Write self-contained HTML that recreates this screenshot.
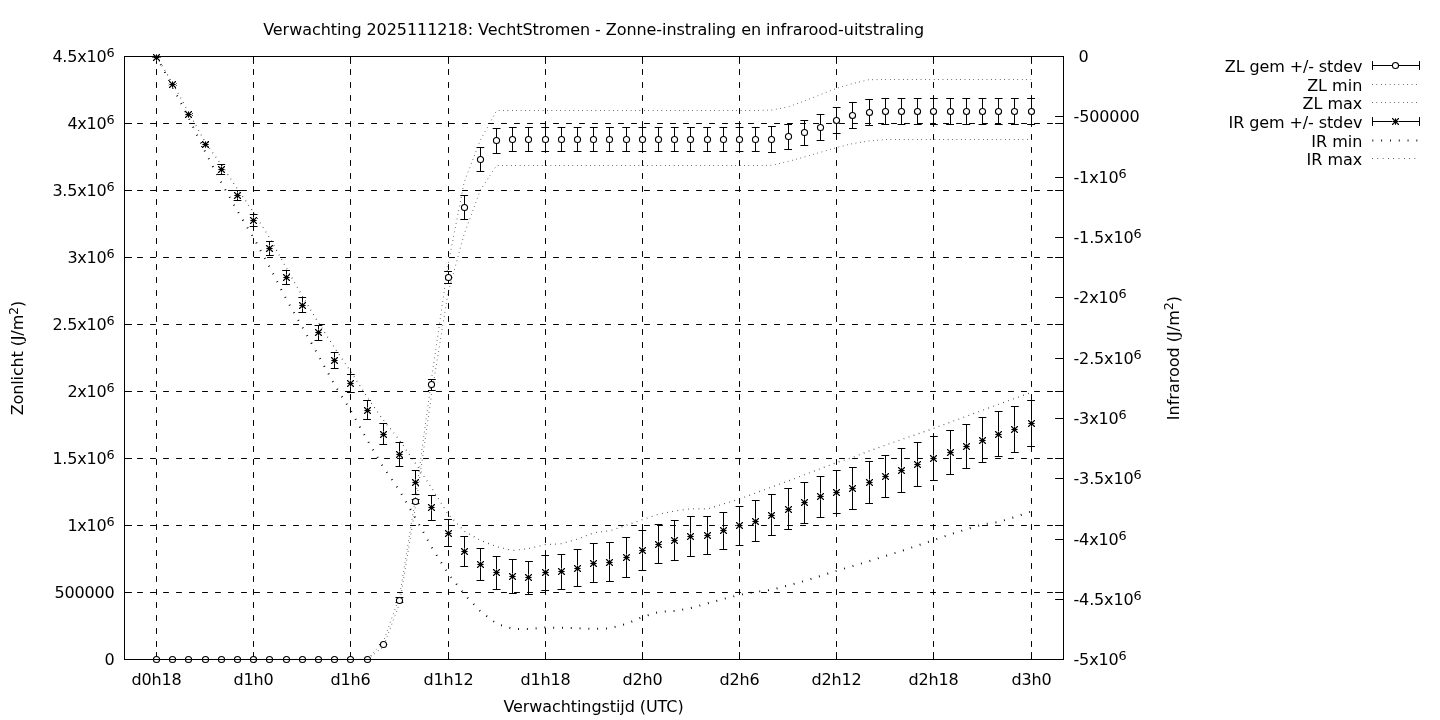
<!DOCTYPE html>
<html lang="nl">
<head>
<meta charset="utf-8">
<title>Verwachting 2025111218: VechtStromen - Zonne-instraling en infrarood-uitstraling</title>
<style>html,body{margin:0;padding:0;background:#fff}svg{display:block;will-change:transform}</style>
</head>
<body>
<svg width="1440" height="720" viewBox="0 0 1440 720" role="img" aria-label="Verwachting 2025111218">
<g fill="none" stroke="#000" stroke-width="1" stroke-linecap="round" stroke-linejoin="round">
<g stroke-dasharray="5 8">
<path d="M156.50 659.5V56.5"/>
<path d="M253.50 659.5V56.5"/>
<path d="M350.50 659.5V56.5"/>
<path d="M448.50 659.5V56.5"/>
<path d="M545.50 659.5V56.5"/>
<path d="M642.50 659.5V56.5"/>
<path d="M739.50 659.5V56.5"/>
<path d="M836.50 659.5V56.5"/>
<path d="M933.50 659.5V56.5"/>
<path d="M1031.50 659.5V56.5"/>
<path d="M124.5 592.5H1063.5"/>
<path d="M124.5 525.5H1063.5"/>
<path d="M124.5 458.5H1063.5"/>
<path d="M124.5 391.5H1063.5"/>
<path d="M124.5 324.5H1063.5"/>
<path d="M124.5 257.5H1063.5"/>
<path d="M124.5 190.5H1063.5"/>
<path d="M124.5 123.5H1063.5"/>
<path d="M124.5 56.5H1063.5"/>
</g>
<path d="M156.50 659.5v-7M156.50 56.5v7M253.50 659.5v-7M253.50 56.5v7M350.50 659.5v-7M350.50 56.5v7M448.50 659.5v-7M448.50 56.5v7M545.50 659.5v-7M545.50 56.5v7M642.50 659.5v-7M642.50 56.5v7M739.50 659.5v-7M739.50 56.5v7M836.50 659.5v-7M836.50 56.5v7M933.50 659.5v-7M933.50 56.5v7M1031.50 659.5v-7M1031.50 56.5v7M124.5 659.5h7M1063.5 659.5h-8M124.5 592.5h7M1063.5 592.5h-8M124.5 525.5h7M1063.5 525.5h-8M124.5 458.5h7M1063.5 458.5h-8M124.5 391.5h7M1063.5 391.5h-8M124.5 324.5h7M1063.5 324.5h-8M124.5 257.5h7M1063.5 257.5h-8M124.5 190.5h7M1063.5 190.5h-8M124.5 123.5h7M1063.5 123.5h-8M124.5 56.5h7M1063.5 56.5h-8M1063.5 56.50h-8M1063.5 116.50h-8M1063.5 177.50h-8M1063.5 237.50h-8M1063.5 297.50h-8M1063.5 358.50h-8M1063.5 418.50h-8M1063.5 478.50h-8M1063.5 539.50h-8M1063.5 599.50h-8M1063.5 659.50h-8"/>
</g>
<g fill="none" stroke="#000" stroke-linejoin="round">
<path d="M156.50 659.50L172.70 659.50L188.89 659.50L205.09 659.50L221.28 659.50L237.48 659.50L253.67 659.50L269.87 659.50L286.06 659.50L302.26 659.50L318.45 659.50L334.65 659.50L350.85 659.50L367.04 659.50L383.24 647.00L399.43 604.00L415.63 506.00L431.82 393.00L448.02 293.00L464.21 234.00L480.41 190.00L496.61 165.50L512.80 165.50L529.00 165.50L545.19 165.50L561.39 165.50L577.58 165.50L593.78 165.50L609.97 165.50L626.17 165.50L642.37 165.50L658.56 165.50L674.76 165.50L690.95 165.50L707.15 165.50L723.34 165.50L739.54 165.50L755.73 165.50L771.93 165.30L788.12 161.50L804.32 157.00L820.52 152.30L836.71 147.50L852.91 143.50L869.10 141.00L885.30 139.50L901.49 139.50L917.69 139.50L933.88 139.50L950.08 139.50L966.27 139.50L982.47 139.50L998.67 139.50L1014.86 139.50L1031.06 139.50" stroke-width="1" stroke-dasharray="0.55 3.85"/>
<path d="M156.50 659.50L172.70 659.50L188.89 659.50L205.09 659.50L221.28 659.50L237.48 659.50L253.67 659.50L269.87 659.50L286.06 659.50L302.26 659.50L318.45 659.50L334.65 659.50L350.85 659.50L367.04 659.50L383.24 642.00L399.43 597.00L415.63 497.00L431.82 377.00L448.02 265.00L464.21 182.00L480.41 140.00L496.61 110.50L512.80 110.50L529.00 110.50L545.19 110.50L561.39 110.50L577.58 110.50L593.78 110.50L609.97 110.50L626.17 110.50L642.37 110.50L658.56 110.50L674.76 110.50L690.95 110.50L707.15 110.50L723.34 110.50L739.54 110.50L755.73 110.50L771.93 110.00L788.12 106.90L804.32 101.00L820.52 94.70L836.71 88.30L852.91 83.50L869.10 79.70L885.30 79.50L901.49 79.50L917.69 79.50L933.88 79.50L950.08 79.50L966.27 79.50L982.47 79.50L998.67 79.50L1014.86 79.50L1031.06 79.50" stroke-width="1" stroke-dasharray="0.55 3.85"/>
<path d="M156.50 56.50L172.70 87.20L188.89 118.30L205.09 151.70L221.28 182.50L237.48 211.00L253.67 238.00L269.87 267.50L286.06 298.80L302.26 327.00L318.45 355.50L334.65 385.00L350.85 410.80L367.04 439.70L383.24 467.00L399.43 490.50L415.63 518.30L431.82 547.50L448.02 573.30L464.21 594.20L480.41 611.30L496.61 623.80L512.80 628.80L529.00 629.10L545.19 627.50L561.39 627.80L577.58 628.30L593.78 628.80L609.97 628.30L626.17 624.00L642.37 617.00L658.56 612.00L674.76 611.00L690.95 608.00L707.15 603.50L723.34 599.00L739.54 594.80L755.73 592.00L771.93 589.70L788.12 585.50L804.32 581.00L820.52 576.00L836.71 570.80L852.91 566.00L869.10 561.20L885.30 556.00L901.49 551.00L917.69 545.50L933.88 540.00L950.08 534.50L966.27 529.30L982.47 524.50L998.67 522.00L1014.86 517.00L1031.06 511.50" stroke-width="2" stroke-dasharray="0.9 7.9"/>
<path d="M156.50 56.50L172.70 83.50L188.89 112.70L205.09 142.00L221.28 164.70L237.48 189.00L253.67 212.50L269.87 238.30L286.06 267.50L302.26 296.00L318.45 322.80L334.65 348.00L350.85 371.70L367.04 397.00L383.24 420.00L399.43 440.00L415.63 463.70L431.82 488.30L448.02 514.00L464.21 531.20L480.41 540.30L496.61 546.70L512.80 550.50L529.00 548.50L545.19 544.70L561.39 543.70L577.58 539.00L593.78 532.70L609.97 530.80L626.17 525.30L642.37 519.70L658.56 514.20L674.76 511.00L690.95 508.70L707.15 509.00L723.34 504.00L739.54 499.00L755.73 493.00L771.93 487.00L788.12 481.00L804.32 474.70L820.52 468.60L836.71 462.50L852.91 457.30L869.10 451.00L885.30 445.20L901.49 439.50L917.69 434.00L933.88 428.30L950.08 422.30L966.27 416.30L982.47 410.30L998.67 404.30L1014.86 398.40L1031.06 392.50" stroke-width="1.2" stroke-dasharray="0.6 4.7"/>
</g>
<g fill="none" stroke="#000" stroke-width="1" stroke-linecap="round">
<path d="M156.50 659.50V659.50M153.00 659.50h7.0M153.00 659.50h7.0M172.50 659.50V659.50M169.20 659.50h7.0M169.20 659.50h7.0M188.50 659.50V659.50M185.39 659.50h7.0M185.39 659.50h7.0M205.50 659.50V659.50M201.59 659.50h7.0M201.59 659.50h7.0M221.50 659.50V659.50M217.78 659.50h7.0M217.78 659.50h7.0M237.50 659.50V659.50M233.98 659.50h7.0M233.98 659.50h7.0M253.50 659.50V659.50M250.17 659.50h7.0M250.17 659.50h7.0M269.50 659.50V659.50M266.37 659.50h7.0M266.37 659.50h7.0M286.50 659.50V659.50M282.56 659.50h7.0M282.56 659.50h7.0M302.50 659.50V659.50M298.76 659.50h7.0M298.76 659.50h7.0M318.50 659.50V659.50M314.95 659.50h7.0M314.95 659.50h7.0M334.50 659.50V659.50M331.15 659.50h7.0M331.15 659.50h7.0M350.50 659.50V659.50M347.35 659.50h7.0M347.35 659.50h7.0M367.50 659.50V659.50M363.54 659.50h7.0M363.54 659.50h7.0M383.50 644.50V644.50M379.74 644.50h7.0M379.74 644.50h7.0M399.50 597.50V602.50M395.93 597.50h7.0M395.93 602.50h7.0M415.50 499.50V503.50M412.13 499.50h7.0M412.13 503.50h7.0M431.50 379.50V390.50M428.32 379.50h7.0M428.32 390.50h7.0M448.50 271.50V283.50M444.52 271.50h7.0M444.52 283.50h7.0M464.50 195.50V219.50M460.71 195.50h7.0M460.71 219.50h7.0M480.50 147.50V171.50M476.91 147.50h7.0M476.91 171.50h7.0M496.50 128.50V153.50M493.11 128.50h7.0M493.11 153.50h7.0M512.50 127.50V151.50M509.30 127.50h7.0M509.30 151.50h7.0M528.50 127.50V151.50M525.50 127.50h7.0M525.50 151.50h7.0M545.50 127.50V151.50M541.69 127.50h7.0M541.69 151.50h7.0M561.50 127.50V151.50M557.89 127.50h7.0M557.89 151.50h7.0M577.50 127.50V151.50M574.08 127.50h7.0M574.08 151.50h7.0M593.50 127.50V151.50M590.28 127.50h7.0M590.28 151.50h7.0M609.50 127.50V151.50M606.47 127.50h7.0M606.47 151.50h7.0M626.50 127.50V151.50M622.67 127.50h7.0M622.67 151.50h7.0M642.50 127.50V151.50M638.87 127.50h7.0M638.87 151.50h7.0M658.50 127.50V151.50M655.06 127.50h7.0M655.06 151.50h7.0M674.50 127.50V151.50M671.26 127.50h7.0M671.26 151.50h7.0M690.50 127.50V151.50M687.45 127.50h7.0M687.45 151.50h7.0M707.50 127.50V151.50M703.65 127.50h7.0M703.65 151.50h7.0M723.50 127.50V151.50M719.84 127.50h7.0M719.84 151.50h7.0M739.50 127.50V151.50M736.04 127.50h7.0M736.04 151.50h7.0M755.50 127.50V151.50M752.23 127.50h7.0M752.23 151.50h7.0M771.50 126.50V152.50M768.43 126.50h7.0M768.43 152.50h7.0M788.50 124.50V149.50M784.62 124.50h7.0M784.62 149.50h7.0M804.50 120.50V145.50M800.82 120.50h7.0M800.82 145.50h7.0M820.50 114.50V140.50M817.02 114.50h7.0M817.02 140.50h7.0M836.50 107.50V133.50M833.21 107.50h7.0M833.21 133.50h7.0M852.50 102.50V128.50M849.41 102.50h7.0M849.41 128.50h7.0M869.50 99.50V125.50M865.60 99.50h7.0M865.60 125.50h7.0M885.50 98.50V124.50M881.80 98.50h7.0M881.80 124.50h7.0M901.50 98.50V124.50M897.99 98.50h7.0M897.99 124.50h7.0M917.50 98.50V124.50M914.19 98.50h7.0M914.19 124.50h7.0M933.50 98.50V124.50M930.38 98.50h7.0M930.38 124.50h7.0M950.50 98.50V124.50M946.58 98.50h7.0M946.58 124.50h7.0M966.50 98.50V124.50M962.77 98.50h7.0M962.77 124.50h7.0M982.50 98.50V124.50M978.97 98.50h7.0M978.97 124.50h7.0M998.50 98.50V124.50M995.17 98.50h7.0M995.17 124.50h7.0M1014.50 98.50V124.50M1011.36 98.50h7.0M1011.36 124.50h7.0M1031.50 98.50V124.50M1027.56 98.50h7.0M1027.56 124.50h7.0"/>
<g fill="#fff" stroke-width="1.1">
<circle cx="156.5" cy="659.5" r="3.05"/>
<circle cx="172.5" cy="659.5" r="3.05"/>
<circle cx="188.5" cy="659.5" r="3.05"/>
<circle cx="205.5" cy="659.5" r="3.05"/>
<circle cx="221.5" cy="659.5" r="3.05"/>
<circle cx="237.5" cy="659.5" r="3.05"/>
<circle cx="253.5" cy="659.5" r="3.05"/>
<circle cx="269.5" cy="659.5" r="3.05"/>
<circle cx="286.5" cy="659.5" r="3.05"/>
<circle cx="302.5" cy="659.5" r="3.05"/>
<circle cx="318.5" cy="659.5" r="3.05"/>
<circle cx="334.5" cy="659.5" r="3.05"/>
<circle cx="350.5" cy="659.5" r="3.05"/>
<circle cx="367.5" cy="659.5" r="3.05"/>
<circle cx="383.5" cy="644.5" r="3.05"/>
<circle cx="399.5" cy="600.5" r="3.05"/>
<circle cx="415.5" cy="501.5" r="3.05"/>
<circle cx="431.5" cy="384.5" r="3.05"/>
<circle cx="448.5" cy="277.5" r="3.05"/>
<circle cx="464.5" cy="207.5" r="3.05"/>
<circle cx="480.5" cy="159.5" r="3.05"/>
<circle cx="496.5" cy="140.5" r="3.05"/>
<circle cx="512.5" cy="139.5" r="3.05"/>
<circle cx="528.5" cy="139.5" r="3.05"/>
<circle cx="545.5" cy="139.5" r="3.05"/>
<circle cx="561.5" cy="139.5" r="3.05"/>
<circle cx="577.5" cy="139.5" r="3.05"/>
<circle cx="593.5" cy="139.5" r="3.05"/>
<circle cx="609.5" cy="139.5" r="3.05"/>
<circle cx="626.5" cy="139.5" r="3.05"/>
<circle cx="642.5" cy="139.5" r="3.05"/>
<circle cx="658.5" cy="139.5" r="3.05"/>
<circle cx="674.5" cy="139.5" r="3.05"/>
<circle cx="690.5" cy="139.5" r="3.05"/>
<circle cx="707.5" cy="139.5" r="3.05"/>
<circle cx="723.5" cy="139.5" r="3.05"/>
<circle cx="739.5" cy="139.5" r="3.05"/>
<circle cx="755.5" cy="139.5" r="3.05"/>
<circle cx="771.5" cy="139.5" r="3.05"/>
<circle cx="788.5" cy="136.5" r="3.05"/>
<circle cx="804.5" cy="132.5" r="3.05"/>
<circle cx="820.5" cy="127.5" r="3.05"/>
<circle cx="836.5" cy="120.5" r="3.05"/>
<circle cx="852.5" cy="115.5" r="3.05"/>
<circle cx="869.5" cy="112.5" r="3.05"/>
<circle cx="885.5" cy="111.5" r="3.05"/>
<circle cx="901.5" cy="111.5" r="3.05"/>
<circle cx="917.5" cy="111.5" r="3.05"/>
<circle cx="933.5" cy="111.5" r="3.05"/>
<circle cx="950.5" cy="111.5" r="3.05"/>
<circle cx="966.5" cy="111.5" r="3.05"/>
<circle cx="982.5" cy="111.5" r="3.05"/>
<circle cx="998.5" cy="111.5" r="3.05"/>
<circle cx="1014.5" cy="111.5" r="3.05"/>
<circle cx="1031.5" cy="111.5" r="3.05"/>
</g>
<path d="M156.50 57.50V57.50M153.00 57.50h7.0M153.00 57.50h7.0M172.50 83.50V85.50M169.20 83.50h7.0M169.20 85.50h7.0M188.50 113.50V115.50M185.39 113.50h7.0M185.39 115.50h7.0M205.50 142.50V146.50M201.59 142.50h7.0M201.59 146.50h7.0M221.50 164.50V174.50M217.78 164.50h7.0M217.78 174.50h7.0M237.50 190.50V200.50M233.98 190.50h7.0M233.98 200.50h7.0M253.50 214.50V226.50M250.17 214.50h7.0M250.17 226.50h7.0M269.50 241.50V255.50M266.37 241.50h7.0M266.37 255.50h7.0M286.50 270.50V284.50M282.56 270.50h7.0M282.56 284.50h7.0M302.50 297.50V312.50M298.76 297.50h7.0M298.76 312.50h7.0M318.50 325.50V340.50M314.95 325.50h7.0M314.95 340.50h7.0M334.50 352.50V368.50M331.15 352.50h7.0M331.15 368.50h7.0M350.50 374.50V392.50M347.35 374.50h7.0M347.35 392.50h7.0M367.50 400.50V419.50M363.54 400.50h7.0M363.54 419.50h7.0M383.50 423.50V444.50M379.74 423.50h7.0M379.74 444.50h7.0M399.50 442.50V466.50M395.93 442.50h7.0M395.93 466.50h7.0M415.50 470.50V494.50M412.13 470.50h7.0M412.13 494.50h7.0M431.50 495.50V520.50M428.32 495.50h7.0M428.32 520.50h7.0M448.50 519.50V546.50M444.52 519.50h7.0M444.52 546.50h7.0M464.50 536.50V566.50M460.71 536.50h7.0M460.71 566.50h7.0M480.50 548.50V580.50M476.91 548.50h7.0M476.91 580.50h7.0M496.50 556.50V589.50M493.11 556.50h7.0M493.11 589.50h7.0M512.50 559.50V593.50M509.30 559.50h7.0M509.30 593.50h7.0M528.50 561.50V594.50M525.50 561.50h7.0M525.50 594.50h7.0M545.50 555.50V590.50M541.69 555.50h7.0M541.69 590.50h7.0M561.50 554.50V589.50M557.89 554.50h7.0M557.89 589.50h7.0M577.50 549.50V586.50M574.08 549.50h7.0M574.08 586.50h7.0M593.50 543.50V582.50M590.28 543.50h7.0M590.28 582.50h7.0M609.50 542.50V581.50M606.47 542.50h7.0M606.47 581.50h7.0M626.50 537.50V577.50M622.67 537.50h7.0M622.67 577.50h7.0M642.50 530.50V570.50M638.87 530.50h7.0M638.87 570.50h7.0M658.50 524.50V563.50M655.06 524.50h7.0M655.06 563.50h7.0M674.50 520.50V560.50M671.26 520.50h7.0M671.26 560.50h7.0M690.50 516.50V556.50M687.45 516.50h7.0M687.45 556.50h7.0M707.50 516.50V554.50M703.65 516.50h7.0M703.65 554.50h7.0M723.50 512.50V549.50M719.84 512.50h7.0M719.84 549.50h7.0M739.50 506.50V545.50M736.04 506.50h7.0M736.04 545.50h7.0M755.50 500.50V541.50M752.23 500.50h7.0M752.23 541.50h7.0M771.50 494.50V535.50M768.43 494.50h7.0M768.43 535.50h7.0M788.50 488.50V529.50M784.62 488.50h7.0M784.62 529.50h7.0M804.50 482.50V523.50M800.82 482.50h7.0M800.82 523.50h7.0M820.50 476.50V517.50M817.02 476.50h7.0M817.02 517.50h7.0M836.50 470.50V513.50M833.21 470.50h7.0M833.21 513.50h7.0M852.50 467.50V509.50M849.41 467.50h7.0M849.41 509.50h7.0M869.50 461.50V503.50M865.60 461.50h7.0M865.60 503.50h7.0M885.50 455.50V497.50M881.80 455.50h7.0M881.80 497.50h7.0M901.50 448.50V492.50M897.99 448.50h7.0M897.99 492.50h7.0M917.50 442.50V486.50M914.19 442.50h7.0M914.19 486.50h7.0M933.50 436.50V480.50M930.38 436.50h7.0M930.38 480.50h7.0M950.50 430.50V474.50M946.58 430.50h7.0M946.58 474.50h7.0M966.50 424.50V468.50M962.77 424.50h7.0M962.77 468.50h7.0M982.50 417.50V462.50M978.97 417.50h7.0M978.97 462.50h7.0M998.50 411.50V456.50M995.17 411.50h7.0M995.17 456.50h7.0M1014.50 406.50V452.50M1011.36 406.50h7.0M1011.36 452.50h7.0M1031.50 400.50V446.50M1027.56 400.50h7.0M1027.56 446.50h7.0"/>
<g fill="#fff" stroke="none">
<circle cx="156.5" cy="57.5" r="3.6"/>
<circle cx="172.5" cy="84.5" r="3.6"/>
<circle cx="188.5" cy="114.5" r="3.6"/>
<circle cx="205.5" cy="144.5" r="3.6"/>
<circle cx="221.5" cy="169.5" r="3.6"/>
<circle cx="237.5" cy="195.5" r="3.6"/>
<circle cx="253.5" cy="220.5" r="3.6"/>
<circle cx="269.5" cy="248.5" r="3.6"/>
<circle cx="286.5" cy="277.5" r="3.6"/>
<circle cx="302.5" cy="305.5" r="3.6"/>
<circle cx="318.5" cy="332.5" r="3.6"/>
<circle cx="334.5" cy="360.5" r="3.6"/>
<circle cx="350.5" cy="383.5" r="3.6"/>
<circle cx="367.5" cy="410.5" r="3.6"/>
<circle cx="383.5" cy="434.5" r="3.6"/>
<circle cx="399.5" cy="454.5" r="3.6"/>
<circle cx="415.5" cy="482.5" r="3.6"/>
<circle cx="431.5" cy="507.5" r="3.6"/>
<circle cx="448.5" cy="533.5" r="3.6"/>
<circle cx="464.5" cy="551.5" r="3.6"/>
<circle cx="480.5" cy="564.5" r="3.6"/>
<circle cx="496.5" cy="572.5" r="3.6"/>
<circle cx="512.5" cy="576.5" r="3.6"/>
<circle cx="528.5" cy="577.5" r="3.6"/>
<circle cx="545.5" cy="572.5" r="3.6"/>
<circle cx="561.5" cy="571.5" r="3.6"/>
<circle cx="577.5" cy="568.5" r="3.6"/>
<circle cx="593.5" cy="563.5" r="3.6"/>
<circle cx="609.5" cy="562.5" r="3.6"/>
<circle cx="626.5" cy="557.5" r="3.6"/>
<circle cx="642.5" cy="550.5" r="3.6"/>
<circle cx="658.5" cy="544.5" r="3.6"/>
<circle cx="674.5" cy="540.5" r="3.6"/>
<circle cx="690.5" cy="536.5" r="3.6"/>
<circle cx="707.5" cy="535.5" r="3.6"/>
<circle cx="723.5" cy="530.5" r="3.6"/>
<circle cx="739.5" cy="525.5" r="3.6"/>
<circle cx="755.5" cy="521.5" r="3.6"/>
<circle cx="771.5" cy="515.5" r="3.6"/>
<circle cx="788.5" cy="509.5" r="3.6"/>
<circle cx="804.5" cy="502.5" r="3.6"/>
<circle cx="820.5" cy="496.5" r="3.6"/>
<circle cx="836.5" cy="492.5" r="3.6"/>
<circle cx="852.5" cy="488.5" r="3.6"/>
<circle cx="869.5" cy="482.5" r="3.6"/>
<circle cx="885.5" cy="476.5" r="3.6"/>
<circle cx="901.5" cy="470.5" r="3.6"/>
<circle cx="917.5" cy="464.5" r="3.6"/>
<circle cx="933.5" cy="458.5" r="3.6"/>
<circle cx="950.5" cy="452.5" r="3.6"/>
<circle cx="966.5" cy="446.5" r="3.6"/>
<circle cx="982.5" cy="440.5" r="3.6"/>
<circle cx="998.5" cy="434.5" r="3.6"/>
<circle cx="1014.5" cy="429.5" r="3.6"/>
<circle cx="1031.5" cy="423.5" r="3.6"/>
</g>
<path stroke-width="1.1" d="M153.80 57.50h5.4M156.50 54.80v5.4M153.50 54.50l6 6M153.50 60.50l6 -6M155.50 57.50l1 -1l1 1l-1 1zM169.80 84.50h5.4M172.50 81.80v5.4M169.50 81.50l6 6M169.50 87.50l6 -6M171.50 84.50l1 -1l1 1l-1 1zM185.80 114.50h5.4M188.50 111.80v5.4M185.50 111.50l6 6M185.50 117.50l6 -6M187.50 114.50l1 -1l1 1l-1 1zM202.80 144.50h5.4M205.50 141.80v5.4M202.50 141.50l6 6M202.50 147.50l6 -6M204.50 144.50l1 -1l1 1l-1 1zM218.80 169.50h5.4M221.50 166.80v5.4M218.50 166.50l6 6M218.50 172.50l6 -6M220.50 169.50l1 -1l1 1l-1 1zM234.80 195.50h5.4M237.50 192.80v5.4M234.50 192.50l6 6M234.50 198.50l6 -6M236.50 195.50l1 -1l1 1l-1 1zM250.80 220.50h5.4M253.50 217.80v5.4M250.50 217.50l6 6M250.50 223.50l6 -6M252.50 220.50l1 -1l1 1l-1 1zM266.80 248.50h5.4M269.50 245.80v5.4M266.50 245.50l6 6M266.50 251.50l6 -6M268.50 248.50l1 -1l1 1l-1 1zM283.80 277.50h5.4M286.50 274.80v5.4M283.50 274.50l6 6M283.50 280.50l6 -6M285.50 277.50l1 -1l1 1l-1 1zM299.80 305.50h5.4M302.50 302.80v5.4M299.50 302.50l6 6M299.50 308.50l6 -6M301.50 305.50l1 -1l1 1l-1 1zM315.80 332.50h5.4M318.50 329.80v5.4M315.50 329.50l6 6M315.50 335.50l6 -6M317.50 332.50l1 -1l1 1l-1 1zM331.80 360.50h5.4M334.50 357.80v5.4M331.50 357.50l6 6M331.50 363.50l6 -6M333.50 360.50l1 -1l1 1l-1 1zM347.80 383.50h5.4M350.50 380.80v5.4M347.50 380.50l6 6M347.50 386.50l6 -6M349.50 383.50l1 -1l1 1l-1 1zM364.80 410.50h5.4M367.50 407.80v5.4M364.50 407.50l6 6M364.50 413.50l6 -6M366.50 410.50l1 -1l1 1l-1 1zM380.80 434.50h5.4M383.50 431.80v5.4M380.50 431.50l6 6M380.50 437.50l6 -6M382.50 434.50l1 -1l1 1l-1 1zM396.80 454.50h5.4M399.50 451.80v5.4M396.50 451.50l6 6M396.50 457.50l6 -6M398.50 454.50l1 -1l1 1l-1 1zM412.80 482.50h5.4M415.50 479.80v5.4M412.50 479.50l6 6M412.50 485.50l6 -6M414.50 482.50l1 -1l1 1l-1 1zM428.80 507.50h5.4M431.50 504.80v5.4M428.50 504.50l6 6M428.50 510.50l6 -6M430.50 507.50l1 -1l1 1l-1 1zM445.80 533.50h5.4M448.50 530.80v5.4M445.50 530.50l6 6M445.50 536.50l6 -6M447.50 533.50l1 -1l1 1l-1 1zM461.80 551.50h5.4M464.50 548.80v5.4M461.50 548.50l6 6M461.50 554.50l6 -6M463.50 551.50l1 -1l1 1l-1 1zM477.80 564.50h5.4M480.50 561.80v5.4M477.50 561.50l6 6M477.50 567.50l6 -6M479.50 564.50l1 -1l1 1l-1 1zM493.80 572.50h5.4M496.50 569.80v5.4M493.50 569.50l6 6M493.50 575.50l6 -6M495.50 572.50l1 -1l1 1l-1 1zM509.80 576.50h5.4M512.50 573.80v5.4M509.50 573.50l6 6M509.50 579.50l6 -6M511.50 576.50l1 -1l1 1l-1 1zM525.80 577.50h5.4M528.50 574.80v5.4M525.50 574.50l6 6M525.50 580.50l6 -6M527.50 577.50l1 -1l1 1l-1 1zM542.80 572.50h5.4M545.50 569.80v5.4M542.50 569.50l6 6M542.50 575.50l6 -6M544.50 572.50l1 -1l1 1l-1 1zM558.80 571.50h5.4M561.50 568.80v5.4M558.50 568.50l6 6M558.50 574.50l6 -6M560.50 571.50l1 -1l1 1l-1 1zM574.80 568.50h5.4M577.50 565.80v5.4M574.50 565.50l6 6M574.50 571.50l6 -6M576.50 568.50l1 -1l1 1l-1 1zM590.80 563.50h5.4M593.50 560.80v5.4M590.50 560.50l6 6M590.50 566.50l6 -6M592.50 563.50l1 -1l1 1l-1 1zM606.80 562.50h5.4M609.50 559.80v5.4M606.50 559.50l6 6M606.50 565.50l6 -6M608.50 562.50l1 -1l1 1l-1 1zM623.80 557.50h5.4M626.50 554.80v5.4M623.50 554.50l6 6M623.50 560.50l6 -6M625.50 557.50l1 -1l1 1l-1 1zM639.80 550.50h5.4M642.50 547.80v5.4M639.50 547.50l6 6M639.50 553.50l6 -6M641.50 550.50l1 -1l1 1l-1 1zM655.80 544.50h5.4M658.50 541.80v5.4M655.50 541.50l6 6M655.50 547.50l6 -6M657.50 544.50l1 -1l1 1l-1 1zM671.80 540.50h5.4M674.50 537.80v5.4M671.50 537.50l6 6M671.50 543.50l6 -6M673.50 540.50l1 -1l1 1l-1 1zM687.80 536.50h5.4M690.50 533.80v5.4M687.50 533.50l6 6M687.50 539.50l6 -6M689.50 536.50l1 -1l1 1l-1 1zM704.80 535.50h5.4M707.50 532.80v5.4M704.50 532.50l6 6M704.50 538.50l6 -6M706.50 535.50l1 -1l1 1l-1 1zM720.80 530.50h5.4M723.50 527.80v5.4M720.50 527.50l6 6M720.50 533.50l6 -6M722.50 530.50l1 -1l1 1l-1 1zM736.80 525.50h5.4M739.50 522.80v5.4M736.50 522.50l6 6M736.50 528.50l6 -6M738.50 525.50l1 -1l1 1l-1 1zM752.80 521.50h5.4M755.50 518.80v5.4M752.50 518.50l6 6M752.50 524.50l6 -6M754.50 521.50l1 -1l1 1l-1 1zM768.80 515.50h5.4M771.50 512.80v5.4M768.50 512.50l6 6M768.50 518.50l6 -6M770.50 515.50l1 -1l1 1l-1 1zM785.80 509.50h5.4M788.50 506.80v5.4M785.50 506.50l6 6M785.50 512.50l6 -6M787.50 509.50l1 -1l1 1l-1 1zM801.80 502.50h5.4M804.50 499.80v5.4M801.50 499.50l6 6M801.50 505.50l6 -6M803.50 502.50l1 -1l1 1l-1 1zM817.80 496.50h5.4M820.50 493.80v5.4M817.50 493.50l6 6M817.50 499.50l6 -6M819.50 496.50l1 -1l1 1l-1 1zM833.80 492.50h5.4M836.50 489.80v5.4M833.50 489.50l6 6M833.50 495.50l6 -6M835.50 492.50l1 -1l1 1l-1 1zM849.80 488.50h5.4M852.50 485.80v5.4M849.50 485.50l6 6M849.50 491.50l6 -6M851.50 488.50l1 -1l1 1l-1 1zM866.80 482.50h5.4M869.50 479.80v5.4M866.50 479.50l6 6M866.50 485.50l6 -6M868.50 482.50l1 -1l1 1l-1 1zM882.80 476.50h5.4M885.50 473.80v5.4M882.50 473.50l6 6M882.50 479.50l6 -6M884.50 476.50l1 -1l1 1l-1 1zM898.80 470.50h5.4M901.50 467.80v5.4M898.50 467.50l6 6M898.50 473.50l6 -6M900.50 470.50l1 -1l1 1l-1 1zM914.80 464.50h5.4M917.50 461.80v5.4M914.50 461.50l6 6M914.50 467.50l6 -6M916.50 464.50l1 -1l1 1l-1 1zM930.80 458.50h5.4M933.50 455.80v5.4M930.50 455.50l6 6M930.50 461.50l6 -6M932.50 458.50l1 -1l1 1l-1 1zM947.80 452.50h5.4M950.50 449.80v5.4M947.50 449.50l6 6M947.50 455.50l6 -6M949.50 452.50l1 -1l1 1l-1 1zM963.80 446.50h5.4M966.50 443.80v5.4M963.50 443.50l6 6M963.50 449.50l6 -6M965.50 446.50l1 -1l1 1l-1 1zM979.80 440.50h5.4M982.50 437.80v5.4M979.50 437.50l6 6M979.50 443.50l6 -6M981.50 440.50l1 -1l1 1l-1 1zM995.80 434.50h5.4M998.50 431.80v5.4M995.50 431.50l6 6M995.50 437.50l6 -6M997.50 434.50l1 -1l1 1l-1 1zM1011.80 429.50h5.4M1014.50 426.80v5.4M1011.50 426.50l6 6M1011.50 432.50l6 -6M1013.50 429.50l1 -1l1 1l-1 1zM1028.80 423.50h5.4M1031.50 420.80v5.4M1028.50 420.50l6 6M1028.50 426.50l6 -6M1030.50 423.50l1 -1l1 1l-1 1z"/>
</g>
<rect x="124.5" y="56.5" width="939.0" height="603.0" fill="none" stroke="#000" stroke-width="1"/>
<g font-family="'DejaVu Sans', 'Liberation Sans', sans-serif" font-size="16" fill="#000">
<text x="114.4" y="665.3" text-anchor="end" letter-spacing="-0.1800">0</text>
<text x="114.4" y="598.3" text-anchor="end" letter-spacing="-0.1800">500000</text>
<text x="114.4" y="531.3" text-anchor="end" letter-spacing="-0.2300">1x10<tspan font-size="12.8" dy="-5.6">6</tspan></text>
<text x="114.4" y="464.3" text-anchor="end" letter-spacing="-0.2029">1.5x10<tspan font-size="12.8" dy="-5.6">6</tspan></text>
<text x="114.4" y="397.3" text-anchor="end" letter-spacing="-0.2300">2x10<tspan font-size="12.8" dy="-5.6">6</tspan></text>
<text x="114.4" y="330.3" text-anchor="end" letter-spacing="-0.2029">2.5x10<tspan font-size="12.8" dy="-5.6">6</tspan></text>
<text x="114.4" y="263.3" text-anchor="end" letter-spacing="-0.2300">3x10<tspan font-size="12.8" dy="-5.6">6</tspan></text>
<text x="114.4" y="196.3" text-anchor="end" letter-spacing="-0.2029">3.5x10<tspan font-size="12.8" dy="-5.6">6</tspan></text>
<text x="114.4" y="129.3" text-anchor="end" letter-spacing="-0.2300">4x10<tspan font-size="12.8" dy="-5.6">6</tspan></text>
<text x="114.4" y="62.3" text-anchor="end" letter-spacing="-0.2029">4.5x10<tspan font-size="12.8" dy="-5.6">6</tspan></text>
<text x="1073.5" y="62.3" letter-spacing="-0.1350" xml:space="preserve"> 0</text>
<text x="1073.5" y="122.3" letter-spacing="-0.1214" xml:space="preserve">-500000</text>
<text x="1073.5" y="183.3" letter-spacing="-0.1533" xml:space="preserve">-1x10<tspan font-size="12.8" dy="-5.6">6</tspan></text>
<text x="1073.5" y="243.3" letter-spacing="-0.1487" xml:space="preserve">-1.5x10<tspan font-size="12.8" dy="-5.6">6</tspan></text>
<text x="1073.5" y="303.3" letter-spacing="-0.1533" xml:space="preserve">-2x10<tspan font-size="12.8" dy="-5.6">6</tspan></text>
<text x="1073.5" y="364.3" letter-spacing="-0.1487" xml:space="preserve">-2.5x10<tspan font-size="12.8" dy="-5.6">6</tspan></text>
<text x="1073.5" y="424.3" letter-spacing="-0.1533" xml:space="preserve">-3x10<tspan font-size="12.8" dy="-5.6">6</tspan></text>
<text x="1073.5" y="484.3" letter-spacing="-0.1487" xml:space="preserve">-3.5x10<tspan font-size="12.8" dy="-5.6">6</tspan></text>
<text x="1073.5" y="545.3" letter-spacing="-0.1533" xml:space="preserve">-4x10<tspan font-size="12.8" dy="-5.6">6</tspan></text>
<text x="1073.5" y="605.3" letter-spacing="-0.1487" xml:space="preserve">-4.5x10<tspan font-size="12.8" dy="-5.6">6</tspan></text>
<text x="1073.5" y="665.3" letter-spacing="-0.1533" xml:space="preserve">-5x10<tspan font-size="12.8" dy="-5.6">6</tspan></text>
<text x="156.50" y="684.8" text-anchor="middle" letter-spacing="-0.1800">d0h18</text>
<text x="253.50" y="684.8" text-anchor="middle" letter-spacing="-0.1800">d1h0</text>
<text x="350.50" y="684.8" text-anchor="middle" letter-spacing="-0.1800">d1h6</text>
<text x="448.50" y="684.8" text-anchor="middle" letter-spacing="-0.1800">d1h12</text>
<text x="545.50" y="684.8" text-anchor="middle" letter-spacing="-0.1800">d1h18</text>
<text x="642.50" y="684.8" text-anchor="middle" letter-spacing="-0.1800">d2h0</text>
<text x="739.50" y="684.8" text-anchor="middle" letter-spacing="-0.1800">d2h6</text>
<text x="836.50" y="684.8" text-anchor="middle" letter-spacing="-0.1800">d2h12</text>
<text x="933.50" y="684.8" text-anchor="middle" letter-spacing="-0.1800">d2h18</text>
<text x="1031.50" y="684.8" text-anchor="middle" letter-spacing="-0.1800">d3h0</text>
<text x="593.7" y="34.7" text-anchor="middle" letter-spacing="-0.0625">Verwachting 2025111218: VechtStromen - Zonne-instraling en infrarood-uitstraling</text>
<text x="593.5" y="712.3" text-anchor="middle" letter-spacing="-0.0818">Verwachtingstijd (UTC)</text>
<text transform="translate(23.3 358) rotate(-90)" text-anchor="middle" letter-spacing="-0.1333">Zonlicht (J/m<tspan font-size="12.8" dy="-5.6">2</tspan><tspan dy="5.6">)</tspan></text>
<text transform="translate(1178.8 358) rotate(-90)" text-anchor="middle">Infrarood (J/m<tspan font-size="12.8" dy="-5.6">2</tspan><tspan dy="5.6">)</tspan></text>
<text x="1362.3" y="72.1" text-anchor="end" letter-spacing="-0.1187">ZL gem +/- stdev</text>
<text x="1362.3" y="90.7" text-anchor="end" letter-spacing="0.0000">ZL min</text>
<text x="1362.3" y="109.3" text-anchor="end" letter-spacing="0.0000">ZL max</text>
<text x="1362.3" y="127.9" text-anchor="end" letter-spacing="-0.1000">IR gem +/- stdev</text>
<text x="1362.3" y="146.5" text-anchor="end" letter-spacing="0.0000">IR min</text>
<text x="1362.3" y="165.1" text-anchor="end" letter-spacing="0.0000">IR max</text>
</g>
<g fill="none" stroke="#000" stroke-width="1" stroke-linecap="round">
<path d="M1372.5 65.5H1419.5M1372.5 61.5v8M1419.5 61.5v8"/>
<circle cx="1395.5" cy="65.5" r="3.05" stroke-width="1.1" fill="#fff"/>
<path d="M1372.5 121.5H1419.5M1372.5 117.5v8M1419.5 117.5v8"/>
<circle cx="1395.5" cy="121.5" r="3.5" fill="#fff" stroke="none"/>
<path stroke-width="1.1" d="M1392.80 121.50h5.4M1395.50 118.80v5.4M1392.50 118.50l6 6M1392.50 124.50l6 -6M1394.50 121.50l1 -1l1 1l-1 1z"/>
</g>
<g fill="none" stroke="#000">
<path d="M1372.2 84.5H1419.5" stroke-width="1" stroke-dasharray="0.55 3.85"/>
<path d="M1372.2 102.5H1419.5" stroke-width="1" stroke-dasharray="0.55 3.85"/>
<path d="M1372.4 140.5H1419.5" stroke-width="2" stroke-dasharray="0.9 7.9"/>
<path d="M1372.2 158.5H1419.5" stroke-width="1.2" stroke-dasharray="0.6 4.7"/>
</g>
</svg>
</body>
</html>
